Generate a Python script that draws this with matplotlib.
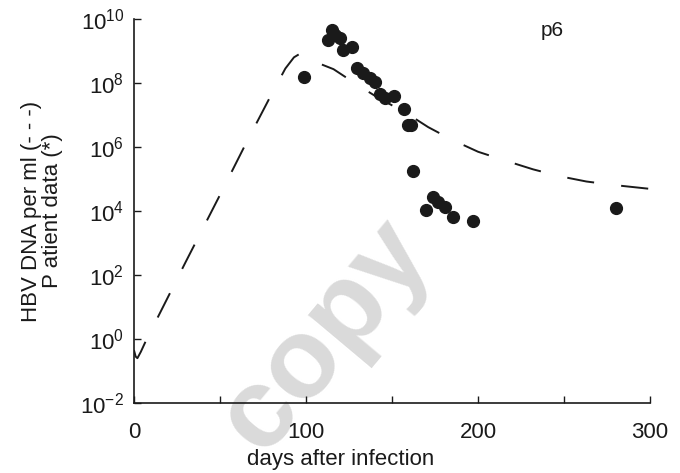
import numpy as np
import matplotlib
matplotlib.use("Agg")
import matplotlib.pyplot as plt

plt.rcParams["font.family"] = ["Liberation Sans", "DejaVu Sans"]
plt.rcParams["mathtext.fontset"] = "custom"
plt.rcParams["mathtext.rm"] = "Liberation Sans"
plt.rcParams["axes.unicode_minus"] = False

# patient p6 measurements (days after infection, HBV DNA copies per ml)
patient_days = [99, 113, 115, 117, 119.8, 121.7, 126.5, 129.5, 133.3, 137, 140,
                143, 146, 151, 157, 159.5, 161, 162.4, 170, 173.6, 177, 181,
                185.6, 197, 280]
patient_dna = [1.5e8, 2.2e9, 4.6e9, 3.2e9, 2.5e9, 1.1e9, 1.35e9, 2.9e8, 2.0e8,
               1.4e8, 1.1e8, 4.6e7, 3.3e7, 4.0e7, 1.5e7, 4.9e6, 4.9e6, 1.8e5,
               1.1e4, 2.8e4, 1.95e4, 1.35e4, 6.6e3, 4.7e3, 1.2e4]

# model curve (log10 copies per ml)
model_days = [0, 1, 2, 4, 7, 15, 30, 50, 65, 80, 88, 93, 97, 101, 104, 108, 116,
              129, 140, 150, 160, 171, 185, 200, 216, 232, 247, 263, 279, 300]
model_log = [-0.35, -0.55, -0.6, -0.4, -0.05, 0.8, 2.4, 4.5, 6.1, 7.65, 8.45,
             8.8, 8.93, 8.9, 8.75, 8.6, 8.43, 7.97, 7.6, 7.3, 7.0, 6.62, 6.22,
             5.85, 5.57, 5.3, 5.09, 4.92, 4.81, 4.69]

yticks = [1e-2, 1e0, 1e2, 1e4, 1e6, 1e8, 1e10]
xticks = [0, 50, 100, 150, 200, 250, 300]
xticklabels = ["0", "", "100", "", "200", "", "300"]

fig = plt.figure(figsize=(6.8, 4.73), dpi=100)
ax = fig.add_axes([0.197, 0.148, 0.759, 0.812])
ax.set_zorder(1)

fig.text(0.479, 0.29, "copy", fontsize=82, fontweight="bold", color="#dadada",
         rotation=50, ha="center", va="center", zorder=-1)

line, = ax.plot(model_days, 10 ** np.array(model_log), color="#1a1a1a", lw=1.4)
line.set_dashes((14, 14))
ax.plot(patient_days, patient_dna, "o", color="#1a1a1a", ms=8.5, mec="#1a1a1a")

ax.set_yscale("log")
ax.set_xlim(0, 300)
ax.set_ylim(1e-2, 1e10)
ax.set_yticks(yticks)
ax.minorticks_off()
ax.set_xticks(xticks)
ax.set_xticklabels(xticklabels)
ax.patch.set_alpha(0)

for s in ["top", "right"]:
    ax.spines[s].set_visible(False)
for s in ["left", "bottom"]:
    ax.spines[s].set_linewidth(1.2)
    ax.spines[s].set_color("#1a1a1a")

ax.tick_params(axis="both", direction="in", length=5, width=1, colors="#1a1a1a",
               labelsize=16, labelcolor="#1a1a1a")
ax.tick_params(axis="x", pad=14)
ax.tick_params(axis="y", pad=7)

ax.set_xlabel("days after infection", fontsize=16, color="#1a1a1a")
ax.xaxis.set_label_coords(0.40, -0.12)
ax.set_ylabel("HBV DNA per ml (- - -)\nP atient data (*)", fontsize=16,
              color="#1a1a1a", linespacing=1.0)
ax.yaxis.set_label_coords(-0.138, 0.5)

ax.text(0.81, 0.971, "p6", transform=ax.transAxes, fontsize=15,
        ha="center", va="center", color="#1a1a1a")

fig.savefig("out.png", dpi=100)
